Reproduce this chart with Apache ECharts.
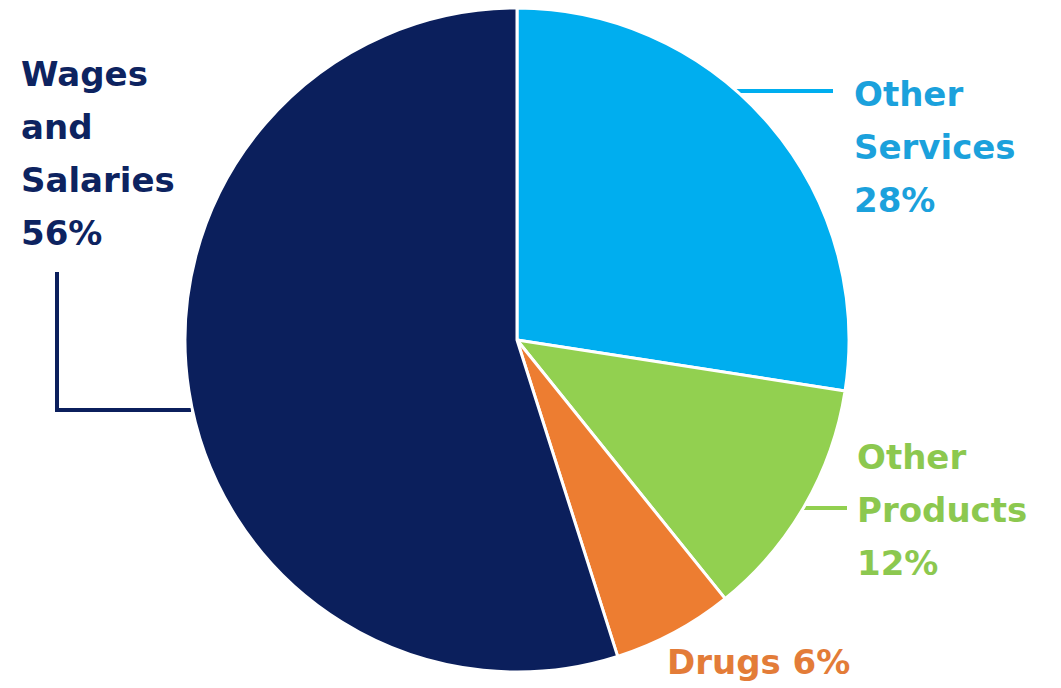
<!DOCTYPE html>
<html>
<head>
<meta charset="utf-8">
<script src="https://cdn.jsdelivr.net/npm/echarts@6/dist/echarts.min.js"></script>
<style>
  html, body { margin: 0; padding: 0; background: #fff; }
  #chart { width: 1061px; height: 688px; }
</style>
</head>
<body>
<div id="chart"></div>
<script>
// data (clockwise from 12 o'clock)
var names = ['Other Services', 'Other Products', 'Drugs', 'Wages and Salaries'];
var labelText = ['Other\nServices', 'Other\nProducts', 'Drugs', 'Wages\nand\nSalaries'];
var values = [28, 12, 6, 56];

var fills = ['#00aeef', '#92d050', '#ed7d31', '#0b1f5c'];
var textColors = ['#1ba1dc', '#8cc84f', '#e37c38', '#0d2360'];

// label placement in pixels: text anchor + leader line path
var labelPos = [
  { x: 854, y: 147, line: [[736, 91], [833, 91]] },
  { x: 857, y: 510, line: [[800, 508], [847, 508]] },
  { x: 667, y: 662, line: null },
  { x: 21, y: 153, line: [[191, 410], [57, 410], [57, 272]] }
];

var chart = echarts.init(document.getElementById('chart'), null, { renderer: 'svg' });

var pieData = names.map(function(n, i) {
  return {
    name: n,
    value: values[i],
    itemStyle: { color: fills[i] },
    label: { color: textColors[i] },
    labelLine: { show: !!labelPos[i].line, lineStyle: { color: fills[i], width: 4 } }
  };
});

chart.setOption({
  animation: false,
  series: [{
    type: 'pie',
    center: [517, 340],
    radius: 332,
    startAngle: 90,
    clockwise: true,
    avoidLabelOverlap: false,
    data: pieData,
    itemStyle: { borderColor: '#fff', borderWidth: 3 },
    label: {
      show: true,
      position: 'outside',
      fontFamily: 'DejaVu Sans',
      fontWeight: 'bold',
      fontSize: 34,
      lineHeight: 53,
      formatter: function(p) {
        var sep = p.dataIndex === 2 ? ' ' : '\n';
        return labelText[p.dataIndex] + sep + p.value + '%';
      }
    },
    labelLine: { show: true, length: 10, length2: 10 },
    labelLayout: function(params) {
      var pos = labelPos[params.dataIndex];
      var out = { x: pos.x, y: pos.y, align: 'left', verticalAlign: 'middle' };
      if (pos.line) out.labelLinePoints = pos.line;
      return out;
    }
  }]
});
window.addEventListener('resize', function() { chart.resize(); });
</script>
</body>
</html>
